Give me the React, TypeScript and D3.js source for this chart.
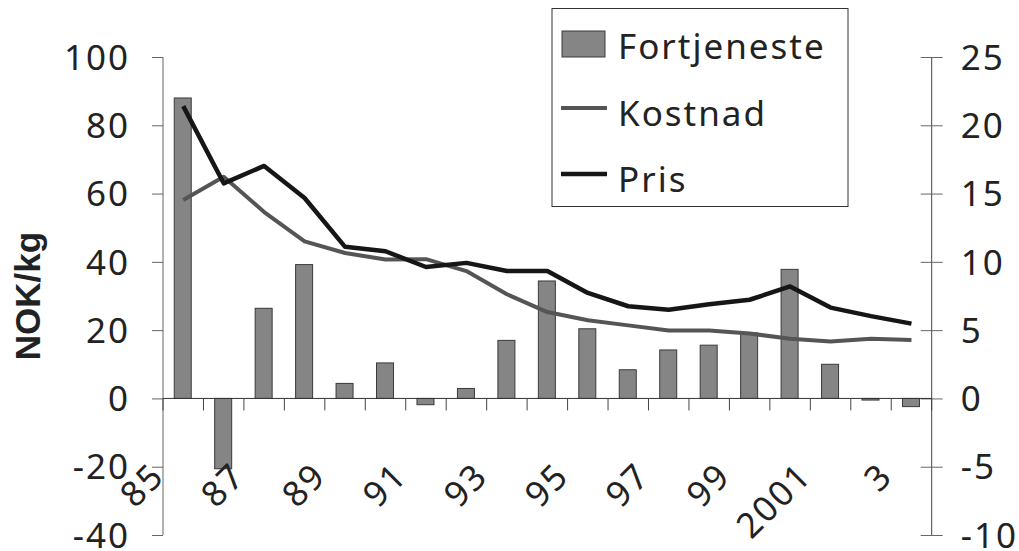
import React, { useRef, useEffect } from 'react'
import * as d3 from 'd3'

// years 1985 - 2003
const years = ['1985','1986','1987','1988','1989','1990','1991','1992','1993','1994','1995','1996','1997','1998','1999','2000','2001','2002','2003']
const yearLabels = ['85','','87','','89','','91','','93','','95','','97','','99','','2001','','3']

// Fortjeneste (right axis)
const fortjeneste = [22.0, -5.15, 6.6, 9.8, 1.1, 2.6, -0.46, 0.73, 4.25, 8.6, 5.1, 2.1, 3.55, 3.9, 4.8, 9.45, 2.5, -0.12, -0.6]
// NOK/kg (left axis)
const kostnad = [58.1, 64.9, 54.6, 46.0, 42.6, 40.7, 40.8, 37.3, 30.5, 25.3, 22.9, 21.4, 19.9, 19.9, 19.0, 17.5, 16.7, 17.5, 17.1]
const pris = [85.6, 63.0, 68.1, 58.7, 44.4, 43.1, 38.5, 39.7, 37.3, 37.3, 30.9, 27.0, 26.0, 27.6, 28.9, 32.8, 26.6, 24.1, 21.9]

const leftTicks = [100, 80, 60, 40, 20, 0, -20, -40]
const rightTicks = [25, 20, 15, 10, 5, 0, -5, -10]

const W = 1019
const H = 551
const FONT = "'Noto Sans', sans-serif"

export default function App() {
    const ref = useRef<SVGSVGElement>(null)

    useEffect(() => {
        const svg = d3.select(ref.current)
        svg.selectAll('*').remove()

        const x = d3.scaleBand().domain(years).range([163, 931.7])
        const yL = d3.scaleLinear().domain([-40, 100]).range([535, 57])
        const yR = d3.scaleLinear().domain([-10, 25]).range([535, 57])
        const fmt = (d: any) => String(d) // plain hyphen for negatives

        // left axis
        const gL = svg.append('g').attr('transform', 'translate(163,0)')
        gL.call(d3.axisLeft(yL).tickValues(leftTicks).tickSize(11).tickPadding(22).tickFormat(fmt))
        gL.select('.domain').attr('stroke', '#666').attr('d', `M0,${yL(100)}V${yL(-40)}`)
        gL.selectAll('.tick line').attr('stroke', '#666')
        gL.selectAll('.tick text')
            .attr('font-family', FONT).attr('font-size', 35).attr('fill', '#222')
            .attr('letter-spacing', 2).attr('dy', '0.35em')

        // right axis, ticks cross the line
        const gR = svg.append('g').attr('transform', 'translate(931.7,0)')
        gR.call(d3.axisRight(yR).tickValues(rightTicks).tickSize(11).tickPadding(18).tickFormat(fmt))
        gR.select('.domain').attr('stroke', '#444').attr('d', `M0,${yR(25)}V${yR(-10)}`)
        gR.selectAll('.tick line').attr('stroke', '#666').attr('x1', -11)
        gR.selectAll('.tick text')
            .attr('font-family', FONT).attr('font-size', 35).attr('fill', '#222')
            .attr('letter-spacing', 2).attr('dy', '0.35em')

        // y title
        svg.append('text')
            .attr('transform', `translate(40,${296}) rotate(-90)`)
            .attr('text-anchor', 'middle')
            .attr('font-family', "'Liberation Sans', Arial, sans-serif")
            .attr('font-weight', 'bold').attr('font-size', 35).attr('fill', '#222')
            .text('NOK/kg')

        // bars
        const bw = 17
        svg.append('g').selectAll('rect').data(fortjeneste).join('rect')
            .attr('x', (d, i) => (x(years[i]) as number) + x.bandwidth() / 2 - bw / 2 - 0.5)
            .attr('width', bw)
            .attr('y', d => Math.min(yR(d), yR(0)))
            .attr('height', d => Math.abs(yR(d) - yR(0)))
            .attr('fill', '#858585')
            .attr('stroke', '#3a3a3a')
            .attr('stroke-width', 1)

        // x axis at zero
        const gX = svg.append('g').attr('transform', `translate(0,${yL(0)})`)
        gX.append('line').attr('x1', 163).attr('x2', 931.7).attr('y1', 0).attr('y2', 0).attr('stroke', '#333')
        gX.selectAll('line.tk').data(d3.range(years.length + 1)).join('line')
            .attr('class', 'tk')
            .attr('x1', i => 163 + i * x.step()).attr('x2', i => 163 + i * x.step())
            .attr('y1', 0).attr('y2', 12)
            .attr('stroke', '#444')

        // year labels, rotated
        svg.append('g').selectAll('text').data(yearLabels).join('text')
            .attr('transform', (d, i) => `translate(${(x(years[i]) as number) + x.bandwidth() / 2 - 17},478) rotate(-45)`)
            .attr('text-anchor', 'end')
            .attr('font-family', FONT).attr('font-size', 35).attr('fill', '#222')
            .attr('letter-spacing', 2)
            .text(d => d)

        const cx = (i: number) => (x(years[i]) as number) + x.bandwidth() / 2
        const line = d3.line<number>().x((d, i) => cx(i)).y(d => yL(d))

        svg.append('path').attr('d', line(kostnad))
            .attr('fill', 'none').attr('stroke', '#555').attr('stroke-width', 4)
            .attr('stroke-linejoin', 'round')
        svg.append('path').attr('d', line(pris))
            .attr('fill', 'none').attr('stroke', '#161616').attr('stroke-width', 4.5)
            .attr('stroke-linejoin', 'round')

        // legend
        const lg = svg.append('g')
        lg.append('rect').attr('x', 552).attr('y', 8.5).attr('width', 296).attr('height', 198)
            .attr('fill', '#fff').attr('stroke', '#333').attr('stroke-width', 1)
        lg.append('rect').attr('x', 562).attr('y', 31).attr('width', 43).attr('height', 26)
            .attr('fill', '#858585').attr('stroke', '#3a3a3a')
        lg.append('line').attr('x1', 561).attr('x2', 607).attr('y1', 108).attr('y2', 108)
            .attr('stroke', '#555').attr('stroke-width', 4)
        lg.append('line').attr('x1', 561).attr('x2', 607).attr('y1', 174).attr('y2', 174)
            .attr('stroke', '#161616').attr('stroke-width', 4.5)
        const names = ['Fortjeneste', 'Kostnad', 'Pris']
        const base = [59, 126, 192]
        lg.selectAll('text').data(names).join('text')
            .attr('x', 618).attr('y', (d, i) => base[i])
            .attr('font-family', FONT).attr('font-size', 35).attr('fill', '#222')
            .attr('letter-spacing', 2)
            .text(d => d)
    }, [])

    return (
        <svg ref={ref} width={W} height={H}
            style={{ position: 'absolute', left: 0, top: 0, background: '#fff' }} />
    )
}
